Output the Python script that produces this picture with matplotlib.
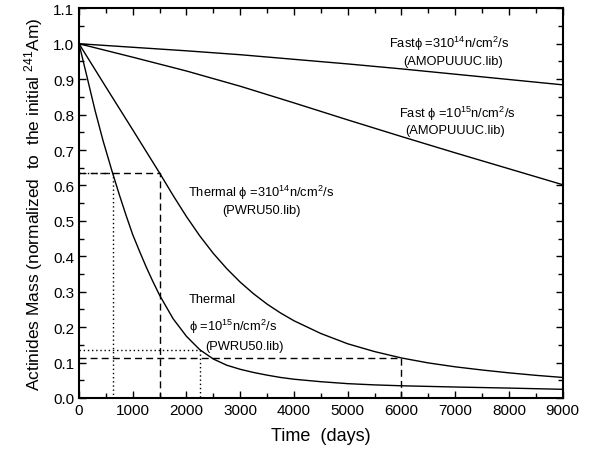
import matplotlib
matplotlib.use('Agg')
import matplotlib.pyplot as plt
from matplotlib.ticker import MultipleLocator

plt.rcParams['font.family'] = ['Liberation Sans', 'DejaVu Sans']
plt.rcParams['mathtext.fontset'] = 'custom'
plt.rcParams['mathtext.rm'] = 'Liberation Sans'
plt.rcParams['mathtext.it'] = 'Liberation Sans'

# curves (time in days, normalised mass)
fast_lo_t = [0, 1000, 2000, 3000, 4000, 5000, 6000, 7000, 8000, 9000]
fast_lo_m = [1.0, 0.99, 0.98, 0.969, 0.956, 0.943, 0.929, 0.914, 0.899, 0.884]

fast_hi_t = [0, 1000, 2000, 3000, 4000, 5000, 6000, 7000, 8000, 9000]
fast_hi_m = [1.0, 0.962, 0.923, 0.88, 0.833, 0.785, 0.738, 0.692, 0.647, 0.602]

therm_lo_t = [0, 500, 1000, 1250, 1500, 1750, 2000, 2250, 2500, 2750, 3000,
              3250, 3500, 3750, 4000, 4500, 5000, 5500, 6000, 6500, 7000,
              7500, 8000, 8500, 9000]
therm_lo_m = [1.0, 0.878, 0.757, 0.696, 0.635, 0.572, 0.512, 0.457, 0.408,
              0.365, 0.327, 0.294, 0.265, 0.240, 0.218, 0.182, 0.153, 0.131,
              0.113, 0.099, 0.088, 0.079, 0.071, 0.064, 0.058]

therm_hi_t = [0, 150, 300, 450, 625, 750, 875, 1000, 1135, 1250, 1371, 1500,
              1750, 2000, 2250, 2500, 2750, 3000, 3250, 3500, 3750, 4000,
              4500, 5000, 5500, 6000, 7000, 8000, 9000]
therm_hi_m = [1.0, 0.906, 0.811, 0.725, 0.635, 0.574, 0.516, 0.461, 0.411,
              0.370, 0.330, 0.290, 0.224, 0.174, 0.136, 0.110, 0.0925, 0.081,
              0.072, 0.0645, 0.058, 0.053, 0.046, 0.0405, 0.037, 0.0345,
              0.031, 0.028, 0.0245]

# guide lines
dash_t = [1500, 6000]
dash_m = [0.635, 0.113]
dot_t = [625, 2250]
dot_m = [0.635, 0.135]

fig = plt.figure(figsize=(5.89, 4.56), dpi=100)
ax = fig.add_axes([0.1341, 0.125, 0.8213, 0.8546])

for t, m in [(fast_lo_t, fast_lo_m), (fast_hi_t, fast_hi_m),
             (therm_lo_t, therm_lo_m), (therm_hi_t, therm_hi_m)]:
    ax.plot(t, m, color='black', linewidth=1.0)

for t, m in zip(dash_t, dash_m):
    ax.plot([0, t, t], [m, m, 0], color='black', linewidth=1.0, linestyle=(0, (5, 3)))
for t, m in zip(dot_t, dot_m):
    ax.plot([0, t, t], [m, m, 0], color='black', linewidth=1.0, linestyle=(0, (1, 2)))

fs = 9.3
ax.text(6885, 1.002, r'Fast$\phi$ =310$^{14}$n/cm$^{2}$/s', ha='center', va='center', fontsize=fs)
ax.text(6960, 0.952, '(AMOPUUUC.lib)', ha='center', va='center', fontsize=fs)
ax.text(7034, 0.806, r'Fast $\phi$ =10$^{15}$n/cm$^{2}$/s', ha='center', va='center', fontsize=fs)
ax.text(7000, 0.757, '(AMOPUUUC.lib)', ha='center', va='center', fontsize=fs)
ax.text(3387, 0.582, r'Thermal $\phi$ =310$^{14}$n/cm$^{2}$/s', ha='center', va='center', fontsize=fs)
ax.text(3400, 0.531, '(PWRU50.lib)', ha='center', va='center', fontsize=fs)
ax.text(2047, 0.279, 'Thermal', ha='left', va='center', fontsize=fs)
ax.text(2047, 0.203, r'$\phi$ =10$^{15}$n/cm$^{2}$/s', ha='left', va='center', fontsize=fs)
ax.text(2345, 0.148, '(PWRU50.lib)', ha='left', va='center', fontsize=fs)

ax.set_xlim(0, 9000)
ax.set_ylim(0, 1.1)
ax.xaxis.set_major_locator(MultipleLocator(1000))
ax.xaxis.set_minor_locator(MultipleLocator(500))
ax.yaxis.set_major_locator(MultipleLocator(0.1))
ax.yaxis.set_minor_locator(MultipleLocator(0.05))
ax.yaxis.set_major_formatter(plt.FormatStrFormatter('%.1f'))
ax.tick_params(which='both', direction='in', top=True, right=True, width=1.0, labelsize=11)
ax.tick_params(which='major', length=5)
ax.tick_params(which='minor', length=3.5)
for s in ax.spines.values():
    s.set_linewidth(1.5)

ax.set_xlabel('Time  (days)', fontsize=13, labelpad=7)
ax.set_ylabel(r'Actinides Mass (normalized  to  the initial $^{241}$Am)', fontsize=12.5, labelpad=6)

fig.savefig('out.png', dpi=100)
